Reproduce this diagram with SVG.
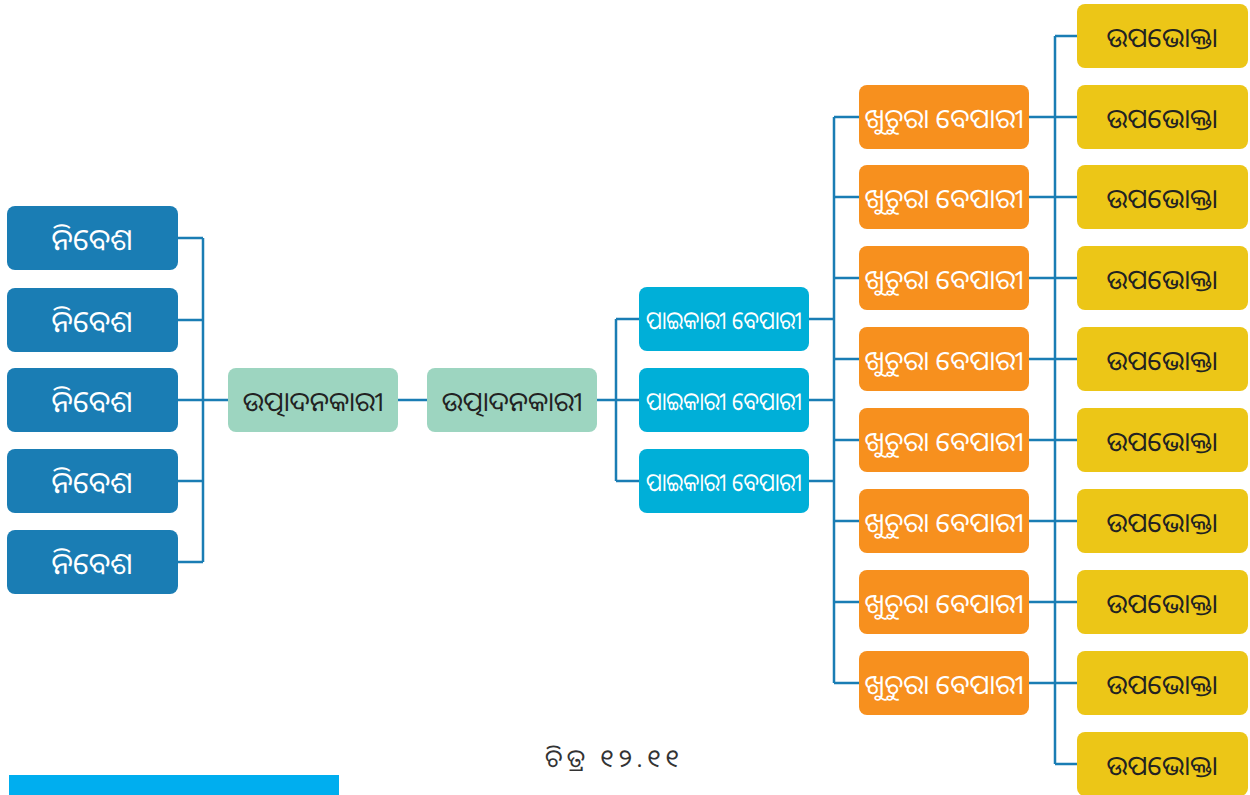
<svg xmlns="http://www.w3.org/2000/svg" width="1250" height="795" viewBox="0 0 1250 795">
<style>
text{font-family:"Noto Sans Oriya","Noto Sans","Lohit Odia","DejaVu Sans",sans-serif;text-anchor:middle;dominant-baseline:central}
.inp rect{fill:#1a7db4}
.inp text{fill:#fff;font-size:30px}
.prod rect{fill:#9dd5c0}
.prod text{fill:#222;font-size:27px}
.whs rect{fill:#00afd8}
.whs text{fill:#fff;font-size:25px}
.ret rect{fill:#f7901e}
.ret text{fill:#fff;font-size:27px}
.con rect{fill:#ecc617}
.con text{fill:#222;font-size:27px}
#connectors path{fill:none;stroke:#1a7db4;stroke-width:2.5}
</style>
<rect width="1250" height="795" fill="#fff"/>
<g id="connectors">
<path d="M178,238H203M178,320H203M178,400H228M178,481H203M178,562H203M203,238V562"/>
<path d="M398,400H427"/>
<path d="M597,400H639M616,319V481M616,319H639M616,481H639"/>
<path d="M809,319H834M809,400H834M809,481H834M834,117V683"/>
<path d="M834,117H859M834,197H859M834,278H859M834,359H859M834,440H859M834,521H859M834,602H859M834,683H859"/>
<path d="M1029,117H1077M1029,197H1077M1029,278H1077M1029,359H1077M1029,440H1077M1029,521H1077M1029,602H1077M1029,683H1077M1055,36V764M1055,36H1077M1055,764H1084"/>
</g>
<g id="inputs" class="inp">
<g id="inp1"><rect x="7" y="206" width="171" height="64" rx="8"/><text x="92" y="238">ନିବେଶ</text></g>
<g id="inp2"><rect x="7" y="288" width="171" height="64" rx="8"/><text x="92" y="320">ନିବେଶ</text></g>
<g id="inp3"><rect x="7" y="368" width="171" height="64" rx="8"/><text x="92" y="400">ନିବେଶ</text></g>
<g id="inp4"><rect x="7" y="449" width="171" height="64" rx="8"/><text x="92" y="481">ନିବେଶ</text></g>
<g id="inp5"><rect x="7" y="530" width="171" height="64" rx="8"/><text x="92" y="562">ନିବେଶ</text></g>
</g>
<g class="prod">
<g id="prod1"><rect x="228" y="368" width="170" height="64" rx="8"/><text x="313" y="400">ଉତ୍ପାଦନକାରୀ</text></g>
<g id="prod2"><rect x="427" y="368" width="170" height="64" rx="8"/><text x="512" y="400">ଉତ୍ପାଦନକାରୀ</text></g>
</g>
<g class="whs">
<g id="whs1"><rect x="639" y="287" width="170" height="64" rx="8"/><text x="724" y="319" textLength="156" lengthAdjust="spacingAndGlyphs">ପାଇକାରୀ ବେପାରୀ</text></g>
<g id="whs2"><rect x="639" y="368" width="170" height="64" rx="8"/><text x="724" y="400" textLength="156" lengthAdjust="spacingAndGlyphs">ପାଇକାରୀ ବେପାରୀ</text></g>
<g id="whs3"><rect x="639" y="449" width="170" height="64" rx="8"/><text x="724" y="481" textLength="156" lengthAdjust="spacingAndGlyphs">ପାଇକାରୀ ବେପାରୀ</text></g>
</g>
<g class="ret">
<g id="ret1"><rect x="859" y="85" width="170" height="64" rx="8"/><text x="944" y="117">ଖୁଚୁରା ବେପାରୀ</text></g>
<g id="ret2"><rect x="859" y="165" width="170" height="64" rx="8"/><text x="944" y="197">ଖୁଚୁରା ବେପାରୀ</text></g>
<g id="ret3"><rect x="859" y="246" width="170" height="64" rx="8"/><text x="944" y="278">ଖୁଚୁରା ବେପାରୀ</text></g>
<g id="ret4"><rect x="859" y="327" width="170" height="64" rx="8"/><text x="944" y="359">ଖୁଚୁରା ବେପାରୀ</text></g>
<g id="ret5"><rect x="859" y="408" width="170" height="64" rx="8"/><text x="944" y="440">ଖୁଚୁରା ବେପାରୀ</text></g>
<g id="ret6"><rect x="859" y="489" width="170" height="64" rx="8"/><text x="944" y="521">ଖୁଚୁରା ବେପାରୀ</text></g>
<g id="ret7"><rect x="859" y="570" width="170" height="64" rx="8"/><text x="944" y="602">ଖୁଚୁରା ବେପାରୀ</text></g>
<g id="ret8"><rect x="859" y="651" width="170" height="64" rx="8"/><text x="944" y="683">ଖୁଚୁରା ବେପାରୀ</text></g>
</g>
<g class="con">
<g id="con1"><rect x="1077" y="4" width="171" height="64" rx="8"/><text x="1162" y="36">ଉପଭୋକ୍ତା</text></g>
<g id="con2"><rect x="1077" y="85" width="171" height="64" rx="8"/><text x="1162" y="117">ଉପଭୋକ୍ତା</text></g>
<g id="con3"><rect x="1077" y="165" width="171" height="64" rx="8"/><text x="1162" y="197">ଉପଭୋକ୍ତା</text></g>
<g id="con4"><rect x="1077" y="246" width="171" height="64" rx="8"/><text x="1162" y="278">ଉପଭୋକ୍ତା</text></g>
<g id="con5"><rect x="1077" y="327" width="171" height="64" rx="8"/><text x="1162" y="359">ଉପଭୋକ୍ତା</text></g>
<g id="con6"><rect x="1077" y="408" width="171" height="64" rx="8"/><text x="1162" y="440">ଉପଭୋକ୍ତା</text></g>
<g id="con7"><rect x="1077" y="489" width="171" height="64" rx="8"/><text x="1162" y="521">ଉପଭୋକ୍ତା</text></g>
<g id="con8"><rect x="1077" y="570" width="171" height="64" rx="8"/><text x="1162" y="602">ଉପଭୋକ୍ତା</text></g>
<g id="con9"><rect x="1077" y="651" width="171" height="64" rx="8"/><text x="1162" y="683">ଉପଭୋକ୍ତା</text></g>
<g id="con10"><rect x="1077" y="732" width="171" height="64" rx="8"/><text x="1162" y="764">ଉପଭୋକ୍ତା</text></g>
</g>
<text x="612" y="757" textLength="134" style="font-size:25px;fill:#333">ଚିତ୍ର ୧୨.୧୧</text>
<rect x="9" y="775" width="330" height="20" fill="#00aeef"/>
</svg>
